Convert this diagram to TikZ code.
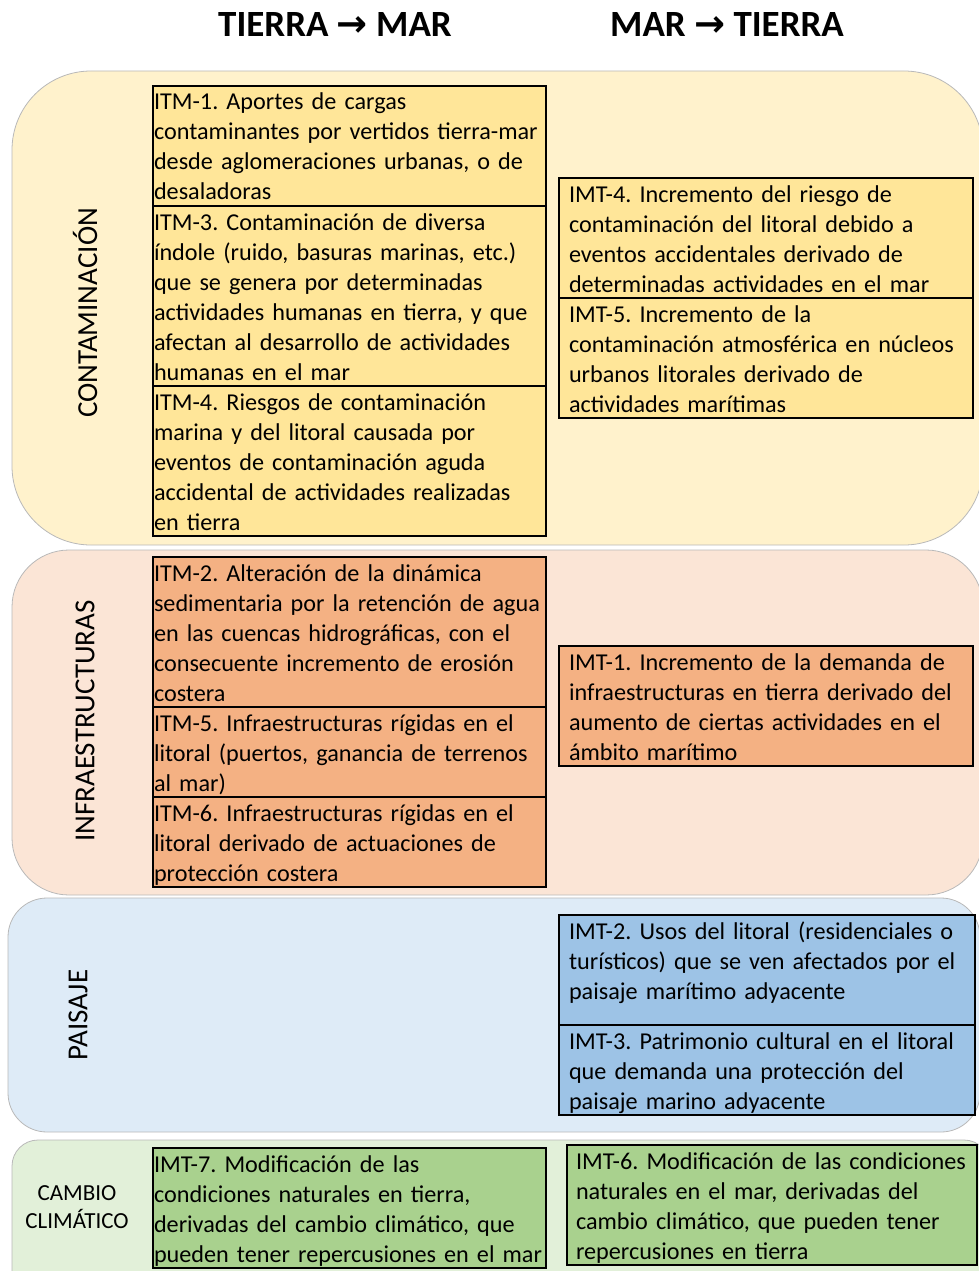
\documentclass[tikz,border=0pt]{standalone}
\usepackage{fontspec}
\setmainfont{Carlito}
\newfontfamily\arrowfont{DejaVu Sans}
\usetikzlibrary{positioning}
\definecolor{bandyellow}{HTML}{FFF2CC}
\definecolor{boxyellow}{HTML}{FFE699}
\definecolor{bandorange}{HTML}{FBE5D6}
\definecolor{boxorange}{HTML}{F4B183}
\definecolor{bandblue}{HTML}{DEEBF7}
\definecolor{boxblue}{HTML}{9DC3E6}
\definecolor{bandgreen}{HTML}{E2F0D9}
\definecolor{boxgreen}{HTML}{A9D18E}
\newcommand{\boxstrut}{\rule[-6pt]{0pt}{30pt}}
\newcommand{\deeprule}[1]{\rule[-#1]{0pt}{#1}}
\frenchspacing
\begin{document}
\begin{tikzpicture}[x=1pt, y=-1pt,
    band/.style={draw=gray!55, line width=0.8pt},
    box/.style={draw=black, line width=1.6pt, outer sep=0pt, inner ysep=0pt,
        align=left, anchor=north west, font=\fontsize{24.2}{30}\selectfont,
        execute at begin node=\boxstrut, execute at end node=\boxstrut},
    leftbox/.style={box, text width=391pt, inner xsep=1pt},
    rightbox/.style={box, text width=394pt, inner xsep=10pt},
    side/.style={rotate=90, font=\fontsize{29}{34}\selectfont},
    head/.style={font=\fontsize{37}{44}\selectfont\bfseries}
]
\useasboundingbox (0,0) rectangle (979,1271);
\clip (0,0) rectangle (979,1271);

\node[head] (tm) at (335,25) {TIERRA {\arrowfont→} MAR};
\node[head] (mt) at (727,25) {MAR {\arrowfont→} TIERRA};

\draw[band, fill=bandyellow, rounded corners=79pt] (12,71) rectangle (983,545);
\draw[band, fill=bandorange, rounded corners=57pt] (12,550) rectangle (983,895);
\draw[band, fill=bandblue, rounded corners=39pt] (8,898) rectangle (980,1132);
\draw[band, fill=bandgreen, rounded corners=26pt] (12,1140) rectangle (990,1300);

\node[side] (contam) at (85,313) {CONTAMINACIÓN};
\node[side] (infra) at (85,721) {INFRAESTRUCTURAS};
\node[side] (paisaje) at (78,1015) {PAISAJE};
\node[align=center, font=\fontsize{23}{28}\selectfont] (cambio) at (77,1207) {CAMBIO\\CLIMÁTICO};

\node[leftbox, fill=boxyellow] (itm1) at (153,86) {ITM-1. Aportes de cargas\\contaminantes por vertidos tierra-mar\\desde aglomeraciones urbanas, o de\\desaladoras};
\node[leftbox, fill=boxyellow, below=0pt of itm1] (itm3) {ITM-3. Contaminación de diversa\\índole (ruido, basuras marinas, etc.)\\que se genera por determinadas\\actividades humanas en tierra, y que\\afectan al desarrollo de actividades\\humanas en el mar};
\node[leftbox, fill=boxyellow, below=0pt of itm3] (itm4) {ITM-4. Riesgos de contaminación\\marina y del litoral causada por\\eventos de contaminación aguda\\accidental de actividades realizadas\\en tierra};
\node[rightbox, fill=boxyellow] (imt4) at (559,178) {IMT-4. Incremento del riesgo de\\contaminación del litoral debido a\\eventos accidentales derivado de\\determinadas actividades en el mar};
\node[rightbox, fill=boxyellow, below=0pt of imt4] (imt5) {IMT-5. Incremento de la\\contaminación atmosférica en núcleos\\urbanos litorales derivado de\\actividades marítimas};

\node[leftbox, fill=boxorange] (itm2) at (153,557) {ITM-2. Alteración de la dinámica\\sedimentaria por la retención de agua\\en las cuencas hidrográficas, con el\\consecuente incremento de erosión\\costera};
\node[leftbox, fill=boxorange, below=0pt of itm2] (itm5) {ITM-5. Infraestructuras rígidas en el\\litoral (puertos, ganancia de terrenos\\al mar)};
\node[leftbox, fill=boxorange, below=0pt of itm5] (itm6) {ITM-6. Infraestructuras rígidas en el\\litoral derivado de actuaciones de\\protección costera};
\node[rightbox, fill=boxorange] (imt1) at (559,646) {IMT-1. Incremento de la demanda de\\infraestructuras en tierra derivado del\\aumento de ciertas actividades en el\\ámbito marítimo};

\node[rightbox, fill=boxblue, text width=396pt] (imt2) at (559,915) {IMT-2. Usos del litoral (residenciales o\\turísticos) que se ven afectados por el\\paisaje marítimo adyacente\deeprule{26pt}};
\node[rightbox, fill=boxblue, text width=396pt, below=0pt of imt2] (imt3) {IMT-3. Patrimonio cultural en el litoral\\que demanda una protección del\\paisaje marino adyacente};

\node[leftbox, fill=boxgreen] (imt7) at (153,1148) {IMT-7. Modificación de las\\condiciones naturales en tierra,\\derivadas del cambio climático, que\\pueden tener repercusiones en el mar};
\node[rightbox, fill=boxgreen, text width=392pt, inner xsep=9pt] (imt6) at (567,1145) {IMT-6. Modificación de las condiciones\\naturales en el mar, derivadas del\\cambio climático, que pueden tener\\repercusiones en tierra};

\end{tikzpicture}
\end{document}
